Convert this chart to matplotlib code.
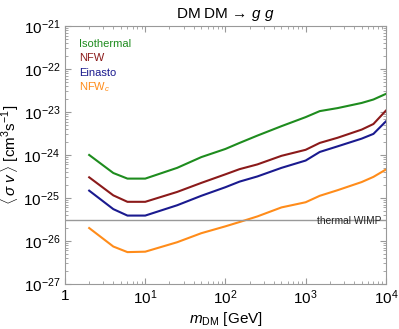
import matplotlib

matplotlib.use("Agg")
import matplotlib.pyplot as plt
import numpy as np

# dark matter masses [GeV]
masses = [2, 4, 6, 10, 25, 50, 100, 150, 250, 500, 1000, 1500, 2500, 5000, 7000, 10000]

# log10 <sigma v> limits [cm^3 s^-1]
log_isothermal = [-24.00, -24.42, -24.55, -24.55, -24.30, -24.05, -23.86, -23.72, -23.55, -23.33,
                  -23.12, -22.98, -22.91, -22.79, -22.71, -22.58]
log_nfw = [-24.52, -24.94, -25.09, -25.09, -24.86, -24.65, -24.45, -24.33, -24.22, -24.02,
           -23.88, -23.72, -23.60, -23.41, -23.28, -22.97]
log_einasto = [-24.83, -25.26, -25.41, -25.41, -25.17, -24.95, -24.75, -24.62, -24.50, -24.30,
               -24.13, -23.93, -23.80, -23.62, -23.51, -23.22]
log_nfwc = [-25.70, -26.13, -26.26, -26.25, -26.03, -25.82, -25.66, -25.56, -25.43, -25.22,
            -25.10, -24.95, -24.82, -24.63, -24.51, -24.34]

thermal_wimp = 3e-26

series = [
    ("Isothermal", log_isothermal, "#1e8c1e"),
    ("NFW", log_nfw, "#8b1a1a"),
    ("Einasto", log_einasto, "#1a1a8f"),
    (r"NFW$_c$", log_nfwc, "#ff8c1a"),
]

plt.rcParams["font.family"] = ["Liberation Sans", "DejaVu Sans"]
plt.rcParams["mathtext.fontset"] = "custom"
plt.rcParams["mathtext.rm"] = "Liberation Sans"
plt.rcParams["mathtext.it"] = "Liberation Sans:italic"

fig = plt.figure(figsize=(3.99, 3.29), dpi=100)
ax = fig.add_axes([0.163, 0.137, 0.804, 0.784])

for label, vals, color in series:
    ax.plot(masses, 10.0 ** np.array(vals), color=color, lw=1.5)

ax.axhline(thermal_wimp, color="#999999", lw=1.0)
ax.text(0.985, 0.245, "thermal WIMP", transform=ax.transAxes, ha="right", va="center",
        fontsize=7.3, color="#222222")

for i, (label, vals, color) in enumerate(series):
    ax.text(0.045, 0.93 - i * 0.056, label, transform=ax.transAxes, color=color,
            fontsize=8, va="center")

ax.set_xscale("log")
ax.set_yscale("log")
ax.set_xlim(1, 1e4)
ax.set_ylim(1e-27, 1e-21)
ax.set_xticks([1, 10, 100, 1000, 10000])
ax.set_xticklabels(["1", r"10$^1$", r"10$^2$", r"10$^3$", r"10$^4$"])
ax.set_yticks([10.0 ** k for k in range(-27, -20)])
ax.set_yticklabels([r"10$^{-%d}$" % k for k in range(27, 20, -1)])
ax.yaxis.set_minor_locator(matplotlib.ticker.LogLocator(base=10, subs=np.arange(2, 10), numticks=20))
ax.yaxis.set_minor_formatter(matplotlib.ticker.NullFormatter())
ax.xaxis.set_minor_locator(matplotlib.ticker.LogLocator(base=10, subs=np.arange(2, 10), numticks=20))
ax.xaxis.set_minor_formatter(matplotlib.ticker.NullFormatter())

ax.tick_params(which="both", direction="in", top=True, right=True, color="#999999", labelsize=11)
ax.tick_params(which="major", length=4, width=0.8)
ax.tick_params(which="minor", length=2, width=0.6)
for s in ax.spines.values():
    s.set_color("#999999")
    s.set_linewidth(0.8)

ax.set_xlabel(r"$m_{\rm DM}$ [GeV]", fontsize=11, labelpad=2)
ax.set_ylabel(r"$\langle\,\sigma\ v\,\rangle$ [cm$^3$s$^{-1}$]", fontsize=11, labelpad=2)
ax.set_title("DM DM \u2192 $g\\ g$", fontsize=11, pad=6)

fig.savefig("out.png", dpi=100)
